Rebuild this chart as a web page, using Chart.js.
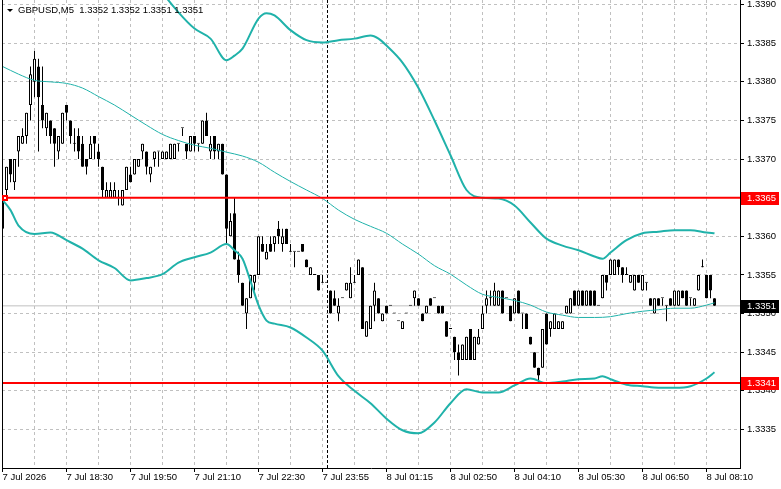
<!DOCTYPE html>
<html>
<head>
<meta charset="utf-8">
<script src="https://cdn.jsdelivr.net/npm/chart.js@4.4.1/dist/chart.umd.min.js"></script>
<style>
  html, body { margin: 0; padding: 0; background: #fff; }
  canvas { display: block; }
</style>
</head>
<body>
<canvas id="chart" width="781" height="489"></canvas>
<script>
// GBPUSD M5, one candle per 5 minutes
const symbol = 'GBPUSD,M5';

const open = [
  1.3361,1.3366,1.3370,1.3367,1.3371,1.3372,1.3373,1.3377,1.3380,1.3382,
  1.3377,1.3374,1.3375,1.3374,1.3371,1.3372,1.3377,1.3375,1.3372,1.3373,
  1.3372,1.3370,1.3370,1.3373,1.3371,1.3369,1.3365,1.3365,1.3365,1.3365,
  1.3364,1.3366,1.3368,1.3368,1.3369,1.3371,1.3371,1.3368,1.3370,1.3371,
  1.3370,1.3370,1.3370,1.3370,1.3372,1.3374,1.3372,1.3371,1.3373,1.3372,
  1.3372,1.3375,1.3371,1.3373,1.3371,1.3372,1.3368,1.3360,1.3363,1.3357,
  1.3354,1.3350,1.3352,1.3354,1.3355,1.3359,1.3357,1.3359,1.3359,1.3361,
  1.3359,1.3361,1.3358,1.3358,1.3358,1.3359,1.3357,1.3355,1.3355,1.3355,
  1.3354,1.3354,1.3353,1.3352,1.3350,1.3352,1.3353,1.3352,1.3354,1.3355,
  1.3356,1.3347,1.3348,1.3351,1.3352,1.3349,1.3351,1.3351,1.3350,1.3349,
  1.3348,1.3350,1.3351,1.3352,1.3352,1.3350,1.3350,1.3352,1.3352,1.3351,
  1.3351,1.3349,1.3348,1.3347,1.3345,1.3344,1.3344,1.3348,1.3344,1.3346,
  1.3348,1.3351,1.3352,1.3351,1.3351,1.3353,1.3352,1.3351,1.3350,1.3353,
  1.3350,1.3350,1.3347,1.3345,1.3343,1.3343,1.3350,1.3348,1.3348,1.3348,
  1.3348,1.3350,1.3350,1.3353,1.3351,1.3353,1.3351,1.3353,1.3353,1.3351,
  1.3352,1.3355,1.3355,1.3355,1.3357,1.3356,1.3355,1.3354,1.3353,1.3355,
  1.3353,1.3354,1.3352,1.3350,1.3352,1.3352,1.3351,1.3352,1.3351,1.3351,
  1.3353,1.3353,1.3352,1.3351,1.3353,1.3356,1.3355,1.3355,1.3352
];
const high = [
  1.3366,1.3369,1.3370,1.3370,1.3373,1.3374,1.3376,1.3382,1.3384,1.3383,
  1.3382,1.3376,1.3375,1.3374,1.3373,1.3376,1.3377,1.3375,1.3374,1.3374,
  1.3373,1.3370,1.3373,1.3373,1.3372,1.3369,1.3367,1.3367,1.3367,1.3366,
  1.3366,1.3369,1.3369,1.3370,1.3370,1.3372,1.3371,1.3369,1.3371,1.3371,
  1.3371,1.3371,1.3372,1.3372,1.3372,1.3374,1.3372,1.3373,1.3373,1.3372,
  1.3375,1.3376,1.3373,1.3373,1.3372,1.3372,1.3368,1.3363,1.3365,1.3358,
  1.3354,1.3352,1.3355,1.3355,1.3360,1.3360,1.3359,1.3360,1.3360,1.3362,
  1.3361,1.3361,1.3359,1.3358,1.3358,1.3359,1.3357,1.3356,1.3355,1.3355,
  1.3355,1.3354,1.3353,1.3353,1.3352,1.3352,1.3354,1.3356,1.3355,1.3357,
  1.3356,1.3349,1.3351,1.3354,1.3352,1.3350,1.3351,1.3351,1.3350,1.3349,
  1.3349,1.3350,1.3351,1.3353,1.3352,1.3350,1.3351,1.3352,1.3352,1.3351,
  1.3351,1.3349,1.3348,1.3347,1.3346,1.3346,1.3347,1.3348,1.3347,1.3348,
  1.3351,1.3353,1.3353,1.3354,1.3353,1.3353,1.3352,1.3351,1.3352,1.3353,
  1.3350,1.3350,1.3347,1.3345,1.3343,1.3348,1.3350,1.3349,1.3350,1.3349,
  1.3349,1.3351,1.3352,1.3353,1.3353,1.3353,1.3353,1.3353,1.3353,1.3351,
  1.3355,1.3355,1.3357,1.3357,1.3357,1.3356,1.3356,1.3355,1.3355,1.3355,
  1.3355,1.3354,1.3352,1.3352,1.3352,1.3352,1.3351,1.3352,1.3353,1.3353,
  1.3353,1.3353,1.3352,1.3352,1.3355,1.3357,1.3355,1.3355,1.3352
];
const low = [
  1.3360,1.3365,1.3367,1.3366,1.3369,1.3372,1.3372,1.3375,1.3378,1.3371,
  1.3374,1.3373,1.3372,1.3369,1.3370,1.3372,1.3375,1.3372,1.3371,1.3370,
  1.3369,1.3368,1.3370,1.3370,1.3369,1.3365,1.3365,1.3365,1.3365,1.3364,
  1.3364,1.3366,1.3367,1.3368,1.3369,1.3370,1.3368,1.3367,1.3369,1.3369,
  1.3370,1.3370,1.3370,1.3370,1.3371,1.3373,1.3370,1.3371,1.3371,1.3371,
  1.3372,1.3373,1.3370,1.3370,1.3370,1.3368,1.3359,1.3360,1.3357,1.3354,
  1.3351,1.3348,1.3352,1.3353,1.3355,1.3358,1.3357,1.3358,1.3358,1.3359,
  1.3358,1.3359,1.3358,1.3356,1.3358,1.3358,1.3356,1.3355,1.3355,1.3353,
  1.3354,1.3354,1.3350,1.3351,1.3349,1.3352,1.3353,1.3352,1.3354,1.3355,
  1.3348,1.3347,1.3348,1.3349,1.3350,1.3349,1.3350,1.3351,1.3350,1.3349,
  1.3348,1.3350,1.3351,1.3351,1.3351,1.3349,1.3350,1.3351,1.3352,1.3350,
  1.3350,1.3347,1.3348,1.3344,1.3342,1.3344,1.3344,1.3344,1.3344,1.3346,
  1.3348,1.3350,1.3351,1.3351,1.3351,1.3350,1.3352,1.3349,1.3350,1.3350,
  1.3348,1.3348,1.3346,1.3343,1.3341,1.3343,1.3346,1.3347,1.3348,1.3348,
  1.3348,1.3350,1.3350,1.3351,1.3351,1.3351,1.3351,1.3351,1.3351,1.3351,
  1.3352,1.3353,1.3355,1.3355,1.3355,1.3354,1.3355,1.3354,1.3353,1.3354,
  1.3353,1.3353,1.3351,1.3350,1.3351,1.3351,1.3349,1.3351,1.3351,1.3351,
  1.3352,1.3351,1.3351,1.3351,1.3353,1.3356,1.3352,1.3352,1.3351
];
const close = [
  1.3365,1.3369,1.3368,1.3370,1.3373,1.3373,1.3376,1.3381,1.3383,1.3378,
  1.3375,1.3376,1.3373,1.3372,1.3373,1.3376,1.3376,1.3373,1.3372,1.3371,
  1.3369,1.3369,1.3372,1.3372,1.3370,1.3366,1.3366,1.3366,1.3366,1.3365,
  1.3366,1.3369,1.3367,1.3370,1.3370,1.3372,1.3369,1.3369,1.3371,1.3371,
  1.3371,1.3371,1.3372,1.3372,1.3372,1.3374,1.3371,1.3373,1.3372,1.3372,
  1.3375,1.3373,1.3372,1.3371,1.3372,1.3368,1.3361,1.3362,1.3357,1.3355,
  1.3351,1.3352,1.3355,1.3355,1.3360,1.3358,1.3358,1.3358,1.3360,1.3360,
  1.3360,1.3359,1.3358,1.3358,1.3358,1.3358,1.3356,1.3356,1.3355,1.3353,
  1.3354,1.3354,1.3350,1.3351,1.3351,1.3352,1.3354,1.3354,1.3354,1.3357,
  1.3348,1.3349,1.3351,1.3353,1.3350,1.3350,1.3350,1.3351,1.3350,1.3349,
  1.3349,1.3350,1.3351,1.3353,1.3351,1.3349,1.3351,1.3351,1.3352,1.3350,
  1.3350,1.3347,1.3348,1.3345,1.3344,1.3346,1.3347,1.3344,1.3347,1.3347,
  1.3350,1.3352,1.3352,1.3353,1.3353,1.3350,1.3352,1.3349,1.3352,1.3350,
  1.3350,1.3348,1.3346,1.3343,1.3342,1.3348,1.3346,1.3349,1.3350,1.3349,
  1.3349,1.3351,1.3352,1.3351,1.3353,1.3351,1.3353,1.3351,1.3351,1.3351,
  1.3355,1.3354,1.3357,1.3357,1.3356,1.3355,1.3355,1.3355,1.3355,1.3354,
  1.3355,1.3354,1.3351,1.3352,1.3351,1.3352,1.3351,1.3351,1.3353,1.3353,
  1.3352,1.3351,1.3352,1.3352,1.3355,1.3356,1.3352,1.3353,1.3351
];

// Bollinger bands (20), read at the candle indices given
const upperIdx = [0,12,24,32,36,40,44,48,52,56,58,60,64,66,68,72,76,80,84,88,92,94,96,100,104,108,112,116,120,124,128,132,136,140,144,148,150,152,156,160,164,168,172,176,178];
const upper = [1.34003,1.33999,1.33986,1.33968,1.33951,1.33916,1.33890,1.33869,1.33856,1.33828,1.33834,1.33843,1.33882,1.33889,1.33886,1.33867,1.33854,1.33851,1.33854,1.33856,1.33860,1.33856,1.33847,1.33825,1.33792,1.33750,1.33705,1.33660,1.33650,1.33649,1.33640,1.33618,1.33597,1.33588,1.33582,1.33574,1.33571,1.33579,1.33595,1.33604,1.33606,1.33608,1.33608,1.33605,1.33604];
const middleIdx = [0,4,8,12,16,20,24,28,32,36,40,44,48,52,56,60,64,68,72,76,80,84,88,92,96,100,104,108,112,116,120,124,128,132,136,140,144,148,152,156,160,164,168,172,176,178];
const middle = [1.33820,1.33810,1.33802,1.33800,1.33798,1.33792,1.33781,1.33770,1.33757,1.33744,1.33732,1.33724,1.33718,1.33714,1.33709,1.33704,1.33696,1.33683,1.33671,1.33660,1.33649,1.33634,1.33622,1.33613,1.33604,1.33590,1.33577,1.33562,1.33551,1.33537,1.33525,1.33521,1.33517,1.33511,1.33502,1.33498,1.33495,1.33495,1.33496,1.33500,1.33503,1.33505,1.33507,1.33507,1.33511,1.33514];
const lowerIdx = [0,2,4,8,12,16,20,24,28,32,36,40,44,48,52,56,58,60,62,64,66,68,72,76,80,84,88,92,96,100,104,108,112,116,120,124,128,132,136,140,144,148,150,152,156,160,164,168,172,176,178];
const lower = [1.33647,1.33634,1.33614,1.33603,1.33605,1.33595,1.33584,1.33569,1.33559,1.33543,1.33546,1.33551,1.33566,1.33573,1.33579,1.33590,1.33582,1.33571,1.33542,1.33511,1.33491,1.33487,1.33482,1.33469,1.33452,1.33419,1.33400,1.33384,1.33364,1.33349,1.33345,1.33359,1.33384,1.33402,1.33398,1.33398,1.33407,1.33416,1.33410,1.33412,1.33415,1.33416,1.33419,1.33415,1.33408,1.33406,1.33404,1.33404,1.33406,1.33416,1.33424];

// time axis: one label every 16 candles
const timeLabels = ['7 Jul 2026','7 Jul 18:30','7 Jul 19:50','7 Jul 21:10','7 Jul 22:30','7 Jul 23:55',
                    '8 Jul 01:15','8 Jul 02:50','8 Jul 04:10','8 Jul 05:30','8 Jul 06:50','8 Jul 08:10'];
const labelEvery = 16;
const dayBreak = 81;          // 8 Jul 00:00

const levels = [1.3365, 1.3341];
const bid = 1.3351;

const xMin = -0.125, xMax = 184.375;
const teal = '#20b2aa';
const gridGray = '#c0c0c0';
const fontFamily = '"Liberation Sans", Arial, sans-serif';
const fontSize = 9.5;

Chart.defaults.font.family = fontFamily;
Chart.defaults.font.size = fontSize;
Chart.defaults.color = '#000';

const hLine = (v) => [{ x: xMin, y: v }, { x: xMax, y: v }];
const band = (idx, vals) => idx.map((x, k) => ({ x: x, y: vals[k] }));
const lineBase = { type: 'line', pointRadius: 0, fill: false, cubicInterpolationMode: 'monotone' };

const overlay = {
  id: 'overlay',
  beforeDatasetsDraw(chart) {
    const { ctx, chartArea: a, scales: { x } } = chart;
    const px = Math.round(x.getPixelForValue(dayBreak)) + 0.5;
    ctx.save();
    ctx.strokeStyle = '#000';
    ctx.lineWidth = 1;
    ctx.setLineDash([3, 2]);
    ctx.beginPath();
    ctx.moveTo(px, a.top);
    ctx.lineTo(px, a.bottom);
    ctx.stroke();
    ctx.restore();
  },
  afterDraw(chart) {
    const { ctx, chartArea: a, scales: { y } } = chart;
    ctx.save();
    // left frame
    ctx.fillStyle = '#000';
    ctx.fillRect(a.left, a.top, 1, a.bottom - a.top);

    // marker on the upper level
    const ym = Math.round(y.getPixelForValue(levels[0]));
    ctx.fillStyle = '#ff0000';
    ctx.fillRect(a.left, ym - 3, 6, 6);
    ctx.fillStyle = '#fff';
    ctx.fillRect(a.left + 2, ym - 1, 2, 2);

    // header
    const n = close.length - 1;
    ctx.fillStyle = '#000';
    ctx.beginPath();
    ctx.moveTo(7, 9); ctx.lineTo(13, 9); ctx.lineTo(10, 12); ctx.closePath();
    ctx.fill();
    ctx.font = fontSize + 'px ' + fontFamily;
    ctx.textBaseline = 'middle';
    ctx.textAlign = 'left';
    ctx.fillText(symbol + '  ' + [open[n], high[n], low[n], close[n]].map(v => v.toFixed(4)).join(' '), 18, 10.5);

    // price tags on the right axis
    const tags = levels.map(v => ({ v: v, bg: '#ff0000' })).concat([{ v: bid, bg: '#000' }]);
    tags.forEach(t => {
      const yy = Math.round(y.getPixelForValue(t.v));
      ctx.fillStyle = t.bg;
      ctx.fillRect(a.right + 1, yy - 6, 38, 13);
      ctx.fillStyle = '#fff';
      ctx.fillText(t.v.toFixed(4), a.right + 7, yy + 0.5);
    });
    ctx.restore();
  }
};

new Chart(document.getElementById('chart'), {
  type: 'bar',
  data: {
    datasets: [
      { ...lineBase, data: hLine(levels[0]), borderColor: '#ff0000', borderWidth: 2, order: 0 },
      { ...lineBase, data: hLine(levels[1]), borderColor: '#ff0000', borderWidth: 2, order: 0 },
      { ...lineBase, data: band(upperIdx, upper), borderColor: teal, borderWidth: 2, order: 1 },
      { ...lineBase, data: band(middleIdx, middle), borderColor: teal, borderWidth: 1, order: 1 },
      { ...lineBase, data: band(lowerIdx, lower), borderColor: teal, borderWidth: 2, order: 1 },
      {
        type: 'bar',
        data: open.map((o, i) => ({ x: i, y: [o, close[i]] })),
        backgroundColor: open.map((o, i) => close[i] > o ? '#ffffff' : '#000000'),
        borderColor: '#000',
        borderWidth: 1,
        borderSkipped: false,
        minBarLength: 1,
        grouped: false,
        barThickness: 3,
        maxBarThickness: 3,
        categoryPercentage: 1,
        barPercentage: 1,
        inflateAmount: 0,
        order: 2
      },
      {
        type: 'bar',
        data: open.map((o, i) => ({ x: i, y: [low[i], high[i]] })),
        backgroundColor: '#000',
        borderWidth: 0,
        grouped: false,
        barThickness: 1,
        maxBarThickness: 1,
        categoryPercentage: 1,
        barPercentage: 1,
        inflateAmount: 0,
        order: 3
      },
      { ...lineBase, data: hLine(bid), borderColor: '#c0c0c0', borderWidth: 1, order: 4 }
    ]
  },
  options: {
    responsive: false,
    animation: false,
    events: [],
    layout: { padding: { left: 2, top: 0, right: 0, bottom: 0 } },
    plugins: { legend: { display: false }, tooltip: { enabled: false } },
    scales: {
      x: {
        type: 'linear',
        min: xMin,
        max: xMax,
        offset: false,
        grid: {
          offset: false,
          tickLength: 4,
          color: (c) => (c.tick && (c.tick.value <= 0 || c.tick.value >= 184)) ? 'rgba(0,0,0,0)' : gridGray,
          tickColor: (c) => (c.tick && c.tick.value % labelEvery === 0 && c.tick.value / labelEvery < timeLabels.length) ? '#000' : 'rgba(0,0,0,0)'
        },
        border: { color: '#000', dash: [3, 3] },
        ticks: {
          stepSize: 8,
          includeBounds: false,
          autoSkip: false,
          maxRotation: 0,
          minRotation: 0,
          align: 'start',
          padding: 0,
          color: '#000',
          callback: (v) => (v % labelEvery === 0 && timeLabels[v / labelEvery]) || ''
        },
        afterFit: (s) => { s.height = 21; s.paddingLeft = 0; s.paddingRight = 0; }
      },
      y: {
        type: 'linear',
        position: 'right',
        min: 1.333001,
        max: 1.33906,
        beginAtZero: false,
        grid: { tickLength: 4, color: gridGray, tickColor: '#000' },
        border: { color: '#000', dash: [3, 3] },
        ticks: {
          stepSize: 0.0005,
          includeBounds: false,
          padding: 3,
          color: '#000',
          callback: (v) => v.toFixed(4)
        },
        afterFit: (s) => { s.width = 41; s.paddingTop = 0; s.paddingBottom = 0; }
      }
    }
  },
  plugins: [overlay]
});
</script>
</body>
</html>
